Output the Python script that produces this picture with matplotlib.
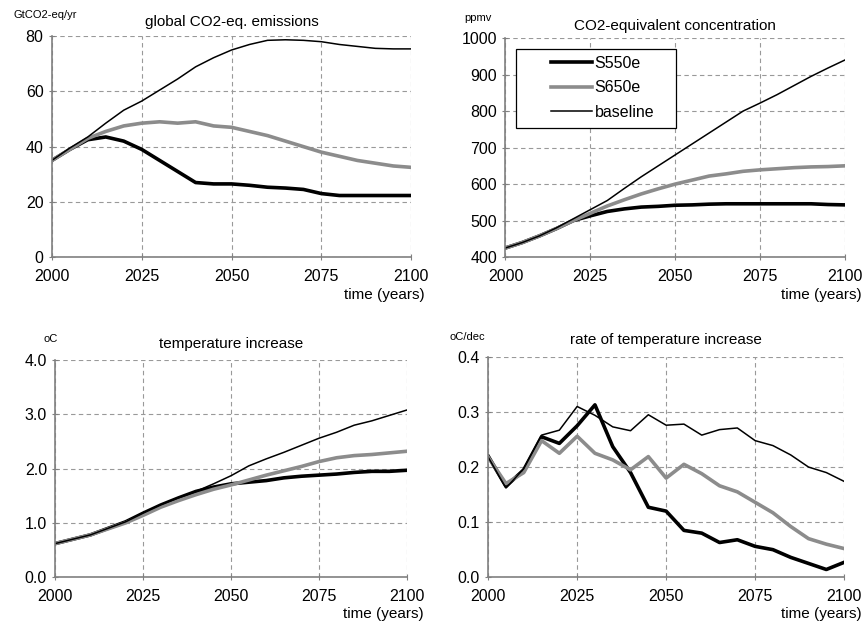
import matplotlib.pyplot as plt
from matplotlib.patches import Rectangle
import numpy as np

plt.rcParams["font.family"] = ["Liberation Sans", "DejaVu Sans"]

# emissions (GtCO2-eq/yr), 5-year steps
years = np.arange(2000, 2101, 5)
emis_s550 = [35, 39, 42.5, 43.5, 42, 39, 35, 31, 27, 26.5, 26.5, 26, 25.3, 25,
             24.5, 23, 22.3, 22.3, 22.3, 22.3, 22.3]
emis_s650 = [35, 39, 43, 45.5, 47.5, 48.5, 49, 48.5, 49, 47.5, 47, 45.5, 44, 42,
             40, 38, 36.5, 35, 34, 33, 32.5]
emis_base = [35, 39.5, 43.5, 48.5, 53.2, 56.5, 60.5, 64.5, 68.9, 72.2, 75, 77, 78.5,
             78.7, 78.5, 78, 77, 76.3, 75.6, 75.4, 75.4]

# CO2-eq concentration (ppmv)
conc_s550 = [425, 440, 458, 478, 500, 513, 525, 532, 537, 539, 542, 543, 545, 546,
             546, 546, 546, 546, 546, 544, 543]
conc_s650 = [425, 440, 458, 478, 500, 520, 540, 557, 573, 587, 600, 611, 622, 628,
             635, 639, 642, 645, 647, 648, 650]
conc_base = [425, 440, 458, 480, 505, 530, 555, 588, 620, 650, 680, 710, 740, 770,
             800, 822, 845, 870, 895, 918, 940]

# temperature increase (oC)
temp_s550 = [0.62, 0.70, 0.78, 0.90, 1.02, 1.18, 1.33, 1.46, 1.58, 1.66, 1.72,
             1.75, 1.78, 1.83, 1.86, 1.88, 1.90, 1.93, 1.95, 1.95, 1.97]
temp_s650 = [0.62, 0.70, 0.78, 0.89, 1.00, 1.14, 1.29, 1.41, 1.52, 1.62, 1.70,
             1.79, 1.88, 1.96, 2.04, 2.13, 2.20, 2.24, 2.26, 2.29, 2.32]
temp_base = [0.62, 0.70, 0.78, 0.90, 1.02, 1.18, 1.33, 1.46, 1.58, 1.72, 1.87,
             2.05, 2.18, 2.30, 2.43, 2.56, 2.67, 2.80, 2.88, 2.98, 3.08]

# rate of temperature increase (oC/dec)
rate_s550 = [0.22, 0.165, 0.195, 0.255, 0.243, 0.275, 0.313, 0.237, 0.19, 0.127,
             0.12, 0.085, 0.08, 0.063, 0.068, 0.056, 0.05, 0.036, 0.025, 0.014, 0.027]
rate_s650 = [0.218, 0.17, 0.19, 0.248, 0.225, 0.256, 0.225, 0.213, 0.195, 0.219,
             0.18, 0.205, 0.188, 0.166, 0.155, 0.136, 0.117, 0.092, 0.07, 0.06, 0.052]
rate_base = [0.218, 0.162, 0.197, 0.258, 0.267, 0.31, 0.294, 0.273, 0.266, 0.295,
             0.276, 0.278, 0.258, 0.268, 0.271, 0.248, 0.239, 0.222, 0.2, 0.19, 0.174]

labels = ["S550e", "S650e", "baseline"]
x_ticks = [2000, 2025, 2050, 2075, 2100]


def style_axis(ax, ylim, yticks, yfmt):
    ax.set_xlim(2000, 2100)
    ax.set_ylim(*ylim)
    ax.set_xticks(x_ticks)
    ax.set_yticks(yticks)
    ax.set_yticklabels([yfmt.format(v) for v in yticks])
    for side in ["top", "right"]:
        ax.spines[side].set_visible(False)
    for side in ["left", "bottom"]:
        ax.spines[side].set_color("#808080")
        ax.spines[side].set_linewidth(1.2)
    ax.tick_params(direction="inout", length=5, color="#808080", labelsize=11.5)
    ax.tick_params(axis="x", pad=6)
    ax.grid(True, linestyle=(0, (4, 3)), color="#999999", linewidth=0.8)
    ax.set_axisbelow(True)


def plot_panel(ax, s550, s650, base):
    ax.plot(years, s550, color="black", linewidth=2.6, label=labels[0])
    ax.plot(years, s650, color="#8c8c8c", linewidth=2.6, label=labels[1])
    ax.plot(years, base, color="black", linewidth=1.1, label=labels[2])


fig = plt.figure(figsize=(8.64, 6.24), dpi=100)

ax_em = fig.add_axes([0.060, 0.588, 0.416, 0.354])
ax_co = fig.add_axes([0.585, 0.588, 0.393, 0.351])
ax_te = fig.add_axes([0.064, 0.075, 0.407, 0.348])
ax_ra = fig.add_axes([0.565, 0.075, 0.412, 0.353])

plot_panel(ax_em, emis_s550, emis_s650, emis_base)
style_axis(ax_em, (0, 80), [0, 20, 40, 60, 80], "{:.0f}")
ax_em.set_title("global CO2-eq. emissions", fontsize=11, pad=7)

plot_panel(ax_co, conc_s550, conc_s650, conc_base)
style_axis(ax_co, (400, 1000), [400, 500, 600, 700, 800, 900, 1000], "{:.0f}")
ax_co.set_title("CO2-equivalent concentration", fontsize=11, pad=6)
# legend box with wide side margins, as in the original
ax_co.add_patch(Rectangle((0.032, 0.589), 0.471, 0.361, transform=ax_co.transAxes,
                          facecolor="white", edgecolor="black", linewidth=0.9,
                          zorder=4))
leg = ax_co.legend(loc="upper left", bbox_to_anchor=(0.11, 0.955), fontsize=11.5,
                   handlelength=2.6, frameon=False, borderpad=0,
                   labelspacing=0.6, handletextpad=0.15)
leg.set_zorder(5)

plot_panel(ax_te, temp_s550, temp_s650, temp_base)
style_axis(ax_te, (0, 4), [0, 1, 2, 3, 4], "{:.1f}")
ax_te.set_title("temperature increase", fontsize=11, pad=9)

plot_panel(ax_ra, rate_s550, rate_s650, rate_base)
style_axis(ax_ra, (0, 0.4), [0, 0.1, 0.2, 0.3, 0.4], "{:.1f}")
ax_ra.set_title("rate of temperature increase", fontsize=11, pad=9)

# unit labels and x-axis labels
fig.text(13 / 864, 1 - 15 / 624, "GtCO2-eq/yr", fontsize=8, va="center")
fig.text(464 / 864, 1 - 18 / 624, "ppmv", fontsize=8, va="center")
fig.text(43 / 864, 1 - 339 / 624, "oC", fontsize=8, va="center")
fig.text(449 / 864, 1 - 337 / 624, "oC/dec", fontsize=8, va="center")
for xr, yr in [(425, 295), (862, 295), (424, 614), (862, 614)]:
    fig.text(xr / 864, 1 - yr / 624, "time (years)", fontsize=11,
             ha="right", va="center")

fig.savefig("out.png", dpi=100)
